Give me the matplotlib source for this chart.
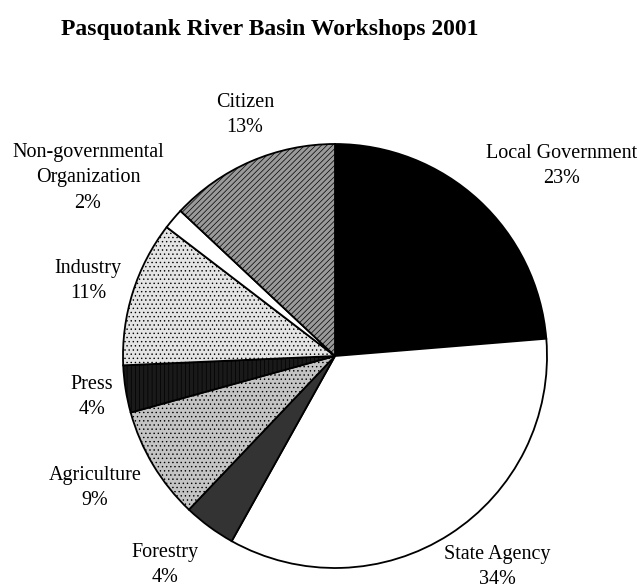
import matplotlib.pyplot as plt
import numpy as np

plt.rcParams['font.family'] = ['Liberation Serif', 'DejaVu Serif']
plt.rcParams['hatch.linewidth'] = 0.5

categories = ['Local Government', 'State Agency', 'Forestry', 'Agriculture',
              'Press', 'Industry', 'Non-governmental\nOrganization', 'Citizen']
shares = [23.7, 34.4, 4.0, 8.6, 3.6, 11.1, 1.6, 13.0]
pct_text = ['23%', '34%', '4%', '9%', '4%', '11%', '2%', '13%']

# label centres, in pie-radius units
label_xy = [(1.071, 0.896), (0.764, -0.995), (-0.802, -0.986), (-1.132, -0.623),
            (-1.146, -0.193), (-1.165, 0.354), (-1.165, 0.840), (-0.425, 1.137)]

face = ['black', 'white', '#333333', '#c4c4c4', '#1a1a1a', '#e4e4e4', 'white', '#9a9a9a']
hatch = [None, None, None, '....', '||||', '....', None, '//////']

fig = plt.figure(figsize=(6.42, 5.88), dpi=100)
ax = fig.add_axes([0, 0, 1, 1])

wedges, _ = ax.pie(shares, startangle=90, counterclock=False, colors=face,
                   radius=1.0, center=(0, 0),
                   wedgeprops=dict(edgecolor='black', linewidth=1.3))
for w, h in zip(wedges, hatch):
    if h:
        w.set_hatch(h)

for name, pct, (x, y) in zip(categories, pct_text, label_xy):
    ax.text(x, y, name + '\n' + pct, ha='center', va='center',
            fontsize=14.5, linespacing=1.45)

r_px = 212.0
ax.set_xlim(-335 / r_px, (642 - 335) / r_px)
ax.set_ylim((356 - 588) / r_px, 356 / r_px)
ax.set_aspect('auto')
ax.axis('off')

fig.text(270 / 642, 1 - 29 / 588, 'Pasquotank River Basin Workshops 2001',
         ha='center', va='center', fontsize=17, fontweight='bold')

fig.savefig('out.png', dpi=100)
